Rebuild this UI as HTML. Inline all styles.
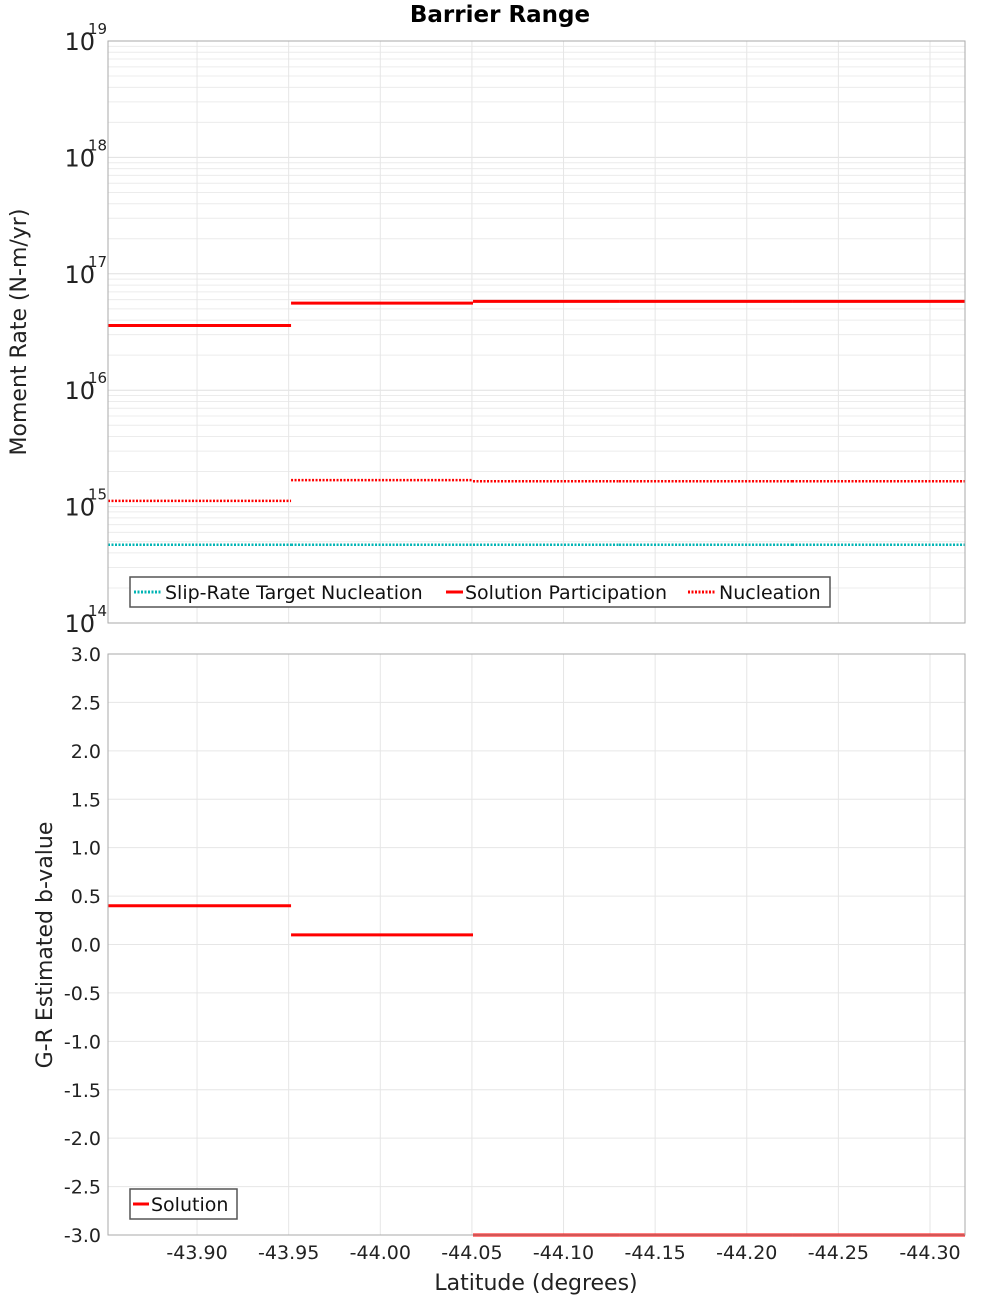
<!DOCTYPE html>
<html><head><meta charset="utf-8"><style>
body{margin:0;background:#fff;}
svg{display:block;font-family:"DejaVu Sans","Liberation Sans",sans-serif;}
</style></head><body>
<svg id="c" width="1000" height="1300"></svg>
<script>
const segBounds = [-43.8514, -43.9513, -44.0506, -44.1303, -44.2247, -44.3191];
const targetNucleation = [4.7e14, 4.7e14, 4.7e14, 4.7e14, 4.7e14];
const solutionParticipation = [3.6e16, 5.6e16, 5.8e16, 5.8e16, 5.8e16];
const nucleation = [1.12e15, 1.69e15, 1.65e15, 1.65e15, 1.65e15];
const bValue = [0.4, 0.1, -3.0, -3.0, -3.0];
const xTicks = [-43.90, -43.95, -44.00, -44.05, -44.10, -44.15, -44.20, -44.25, -44.30];
const logTicks = [14, 15, 16, 17, 18, 19];
const bTicks = [3.0, 2.5, 2.0, 1.5, 1.0, 0.5, 0.0, -0.5, -1.0, -1.5, -2.0, -2.5, -3.0];

const NS = "http://www.w3.org/2000/svg";
const svg = document.getElementById('c');
const L = 108, R = 965, T1 = 41, B1 = 623, T2 = 654, B2 = 1235;
const xMin = -43.8514, xMax = -44.3191;
function X(v){ return L + (v - xMin) / (xMax - xMin) * (R - L); }
function Y1(v){ const lg = Math.log10(v); return B1 - (lg - 14) / 5 * (B1 - T1); }
function Y2(v){ return B2 - (v + 3) / 6 * (B2 - T2); }
function el(tag, attrs, parent){ const e = document.createElementNS(NS, tag); for (const k in attrs) e.setAttribute(k, attrs[k]); (parent||svg).appendChild(e); return e; }

const bg1 = el('rect',{x:L,y:T1,width:R-L,height:B1-T1,fill:'#fff'});


const bg2 = el('rect',{x:L,y:T2,width:R-L,height:B2-T2,fill:'#fff'});



for (let d = 14; d < 19; d++) for (let m = 1; m < 10; m++) {
  const y = Y1(m * Math.pow(10, d));
  const g = el('line',{x1:L,x2:R,y1:y,y2:y,stroke:m===1?'#e0e0e0':'#ececec','stroke-width':1});
  
  
}
bTicks.forEach(v => { const y = Y2(v);
  const g = el('line',{x1:L,x2:R,y1:y,y2:y,stroke:'#e6e6e6','stroke-width':1});
  
  
});
xTicks.forEach(v => { const x = X(v);
  [[T1,B1],[T2,B2]].forEach(p => {
    const g = el('line',{x1:x,x2:x,y1:p[0],y2:p[1],stroke:'#e6e6e6','stroke-width':1});
    
    
  });
});

function steps(vals, yf, color, dash, name){
  for (let i = 0; i < vals.length; i++) {
    const a = {x1:X(segBounds[i]),x2:X(segBounds[i+1]),y1:yf(vals[i]),y2:yf(vals[i]),stroke:color,'stroke-width':dash?2.5:3};
    if (dash) a['stroke-dasharray'] = '2,1.5';
    const ln = el('line',a);
    
    
  }
}
steps(targetNucleation, Y1, '#00b4b4', true, 'target-nucleation');
steps(nucleation, Y1, '#ff0000', true, 'nucleation');
steps(solutionParticipation, Y1, '#ff0000', false, 'solution-participation');
steps(bValue, Y2, '#ff0000', false, 'b-value');

[[T1,B1],[T2,B2]].forEach((p,i) => {
  const r = el('rect',{x:L,y:p[0],width:R-L,height:p[1]-p[0],fill:'none',stroke:'#aaa','stroke-width':1});
  
  
});

logTicks.forEach(d => {
  const y = Y1(Math.pow(10,d));
  const t = el('text',{x:95,y:y+9,'font-size':24,'text-anchor':'end',fill:'#222'});
  t.textContent = '10';
  
  
  const s = el('text',{x:88,y:y-7,'font-size':15,fill:'#222'});
  s.textContent = String(d);
  
  
});
bTicks.forEach(v => {
  const t = el('text',{x:101,y:Y2(v)+7,'font-size':19,'text-anchor':'end',fill:'#222'});
  t.textContent = v.toFixed(1);
  
  
});
xTicks.forEach(v => {
  const t = el('text',{x:X(v),y:1259,'font-size':19,'text-anchor':'middle',fill:'#222'});
  t.textContent = v.toFixed(2);
  
  
});

let t = el('text',{x:500,y:22,'font-size':23,'font-weight':'bold','text-anchor':'middle'});
t.textContent = 'Barrier Range';


t = el('text',{x:536,y:1290,'font-size':22,'text-anchor':'middle',fill:'#222'});
t.textContent = 'Latitude (degrees)';


t = el('text',{x:0,y:0,'font-size':22,'text-anchor':'middle',fill:'#222',transform:'translate(26,332) rotate(-90)'});
t.textContent = 'Moment Rate (N-m/yr)';


t = el('text',{x:0,y:0,'font-size':22,'text-anchor':'middle',fill:'#222',transform:'translate(52,945) rotate(-90)'});
t.textContent = 'G-R Estimated b-value';



const lg1 = el('g',{});


el('rect',{x:130,y:577,width:700,height:30,fill:'#fff',stroke:'#555','stroke-width':1.5},lg1);
const items = [[134,'#00b4b4',true,'Slip-Rate Target Nucleation',165],[446,'#ff0000',false,'Solution Participation',465],[688,'#ff0000',true,'Nucleation',719]];
items.forEach(it => {
  const a = {x1:it[0],x2:it[0]+27,y1:592,y2:592,stroke:it[1],'stroke-width':3};
  if (it[2]) a['stroke-dasharray'] = '2,1.5';
  if (!it[2]) a.x2 = it[0]+17;
  el('line',a,lg1);
  const tx = el('text',{x:it[4],y:599,'font-size':19,fill:'#111'},lg1);
  tx.textContent = it[3];
  
  
});
const lg2 = el('g',{});


el('rect',{x:130,y:1189,width:107,height:30,fill:'#fff',stroke:'#555','stroke-width':1.5},lg2);
el('line',{x1:133,x2:149,y1:1204,y2:1204,stroke:'#ff0000','stroke-width':3},lg2);
const tx2 = el('text',{x:151,y:1211,'font-size':19,fill:'#111'},lg2);
tx2.textContent = 'Solution';


</script>
</body></html>
